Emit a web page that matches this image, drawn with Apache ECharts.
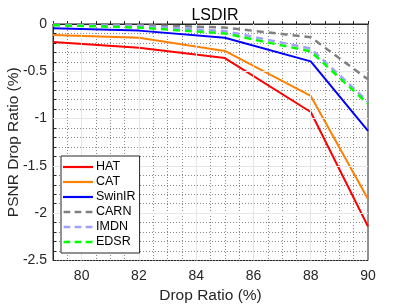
<!DOCTYPE html>
<html><head><meta charset="utf-8">
<script src="https://cdn.jsdelivr.net/npm/echarts@6/dist/echarts.min.js"></script>
<style>html,body{margin:0;padding:0;background:#fff}#c{width:407px;height:305px}</style>
</head><body><div id="c"></div>
<script>
const dropRatio = [79, 82, 85, 88, 90];
const HAT = [-0.19, -0.25, -0.36, -0.93, -2.14];
const CAT = [-0.115, -0.145, -0.285, -0.76, -1.85];
const SwinIR = [-0.046, -0.07, -0.145, -0.395, -1.13];
const CARN = [-0.005, -0.01, -0.038, -0.14, -0.585];
const IMDN = [-0.01, -0.022, -0.075, -0.26, -0.82];
const EDSR = [-0.012, -0.038, -0.10, -0.29, -0.845];
const xMajor = [80, 82, 84, 86, 88];
const yMajor = [-0.5, -1, -1.5, -2];

const font = 'Liberation Sans, Arial, sans-serif';
const names = ['HAT','CAT','SwinIR','CARN','IMDN','EDSR'];
const vals = [HAT, CAT, SwinIR, CARN, IMDN, EDSR];
const colors = ['#ff0000','#ff8000','#0000ff','#808080','#a0a0ff','#00ff00'];
const dashed = [false,false,false,true,true,true];

const solidIcon = 'path://M0,0H30V2.2H0Z';
const dashIcon = 'path://M0,0H7V2.6H0Z M11.5,0H18.5V2.6H11.5Z M23,0H30V2.6H23Z';

const series = [{
  type:'line', data:[], silent:true, z:1,
  markLine:{silent:true, symbol:'none', label:{show:false},
    lineStyle:{color:'#e6e6e6', type:'solid', width:1},
    data: xMajor.map(v=>({xAxis:v})).concat(yMajor.map(v=>({yAxis:v})))}
}];
names.forEach((n,i)=>{
  series.push({
    name:n, type:'line', z:3+i, symbol:'none', showSymbol:false,
    data: dropRatio.map((x,j)=>[x, vals[i][j]]),
    lineStyle:{color:colors[i], width: dashed[i]?2.5:2, type: dashed[i]?[7,5]:'solid'},
    itemStyle:{color:colors[i]}
  });
});

const chart = echarts.init(document.getElementById('c'), null, {renderer:'canvas'});
chart.setOption({
  animation:false,
  backgroundColor:'#fff',
  title:{text:'LSDIR', left:210, top:3, textAlign:'center',
    textStyle:{fontFamily:font, fontSize:16, fontWeight:'normal', color:'#000'}},
  grid:{left:53, right:39, top:24, bottom:44.5, containLabel:false, outerBoundsMode:'none',
    show:true, borderColor:'#262626', borderWidth:1, backgroundColor:'#fff'},
  legend:{orient:'vertical', left:61, top:156, height:100, z:50, zlevel:0,
    data: names.map((n,i)=>({name:n, icon: dashed[i]?dashIcon:solidIcon, itemStyle:{color:colors[i]}})),
    backgroundColor:'#fff', borderColor:'#262626', borderWidth:1,
    padding:[4,4,4,2], itemWidth:30, itemHeight:2.5, itemGap:1,
    textStyle:{fontFamily:font, fontSize:12.5, lineHeight:14, color:'#000', padding:[0,0,0,-2]}},
  xAxis:{type:'value', min:79, max:90, interval:0.5,
    name:'Drop Ratio (%)', nameLocation:'middle', nameGap:27, nameMoveOverlap:false,
    nameTextStyle:{fontFamily:font, fontSize:15.5, color:'#262626'},
    axisLine:{show:true, lineStyle:{color:'#262626'}},
    axisTick:{show:true, inside:true, length:3, lineStyle:{color:'#262626'}},
    axisLabel:{fontFamily:font, fontSize:14, color:'#262626', margin:9,
      formatter:v=> (Math.abs(v-Math.round(v))<1e-6 && Math.round(v)%2===0) ? String(Math.round(v)) : ''},
    splitLine:{show:true, lineStyle:{color:'#888', type:[1,2], width:1}}},
  yAxis:{type:'value', min:-2.5, max:0, interval:0.1,
    name:'PSNR Drop Ratio (%)', nameLocation:'middle', nameGap:31, nameMoveOverlap:false,
    nameTextStyle:{fontFamily:font, fontSize:15.5, color:'#262626'},
    axisLine:{show:true, lineStyle:{color:'#262626'}},
    axisTick:{show:true, inside:true, length:3, lineStyle:{color:'#262626'}},
    axisLabel:{fontFamily:font, fontSize:14, color:'#262626', margin:6,
      formatter:v=>{const k=Math.round(v*10); if(k%5!==0) return ''; const r=k/10; return r===0?'0':String(r);}},
    splitLine:{show:true, lineStyle:{color:'#888', type:[1,2], width:1}}},
  series: series
});
</script></body></html>
